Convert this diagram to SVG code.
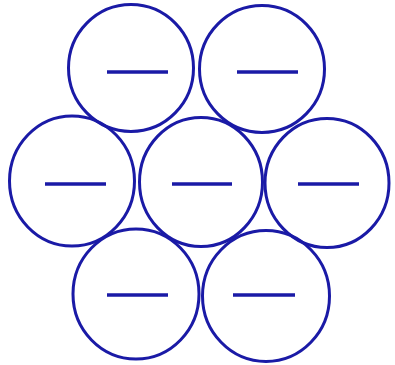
<svg xmlns="http://www.w3.org/2000/svg" width="395" height="365" viewBox="0 0 395 365">
<style>
.c{fill:none;stroke:#1a1aa6;stroke-width:3}
.m{stroke:#1a1aa6;stroke-width:3.5}
</style>
<rect width="395" height="365" fill="#ffffff"/>
<g id="n1"><ellipse class="c" cx="131" cy="68" rx="62.5" ry="63.5"/><line class="m" x1="107" y1="72" x2="168" y2="72"/></g>
<g id="n2"><ellipse class="c" cx="262" cy="69" rx="62.5" ry="63.5"/><line class="m" x1="237" y1="72" x2="298" y2="72"/></g>
<g id="n3"><ellipse class="c" cx="72" cy="181" rx="62.5" ry="65"/><line class="m" x1="45" y1="184" x2="106" y2="184"/></g>
<g id="n4"><ellipse class="c" cx="201" cy="182" rx="61.5" ry="64.5"/><line class="m" x1="172" y1="184" x2="232" y2="184"/></g>
<g id="n5"><ellipse class="c" cx="327" cy="183" rx="62" ry="64.5"/><line class="m" x1="298" y1="184" x2="359" y2="184"/></g>
<g id="n6"><ellipse class="c" cx="136" cy="294" rx="63" ry="65"/><line class="m" x1="107" y1="295" x2="168" y2="295"/></g>
<g id="n7"><ellipse class="c" cx="266" cy="296" rx="63.5" ry="65.5"/><line class="m" x1="233" y1="295" x2="295" y2="295"/></g>
<g id="connectors"></g>
</svg>
